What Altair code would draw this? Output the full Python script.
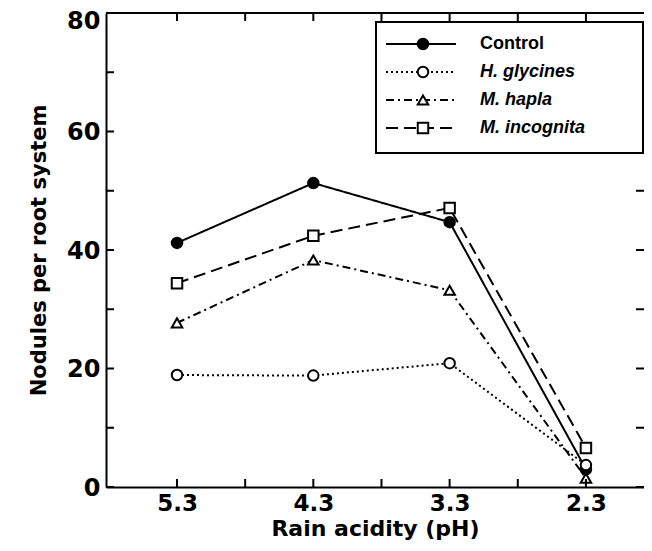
import altair as alt
import pandas as pd

# ---- data ----
ph_labels = ["5.3", "4.3", "3.3", "2.3"]
series_names = ["Control", "H. glycines", "M. hapla", "M. incognita"]
control = [41.2, 51.3, 44.7, 3.0]
h_glycines = [18.9, 18.8, 20.9, 3.7]
m_hapla = [27.7, 38.3, 33.2, 1.5]
m_incognita = [34.4, 42.4, 47.1, 6.6]
x_tick_values = [0, 0.5, 1, 1.5, 2, 2.5, 3]
y_tick_values = [0, 10, 20, 30, 40, 50, 60, 70, 80]
y_label_values = [0, 20, 40, 60, 80]

series_values = [control, h_glycines, m_hapla, m_incognita]
rows = []
for name, vals in zip(series_names, series_values):
    for i, v in enumerate(vals):
        rows.append({"series": name, "idx": i, "ph": ph_labels[i], "value": v})
df = pd.DataFrame(rows)
leg_df = pd.DataFrame({"series": series_names})
xt_df = pd.DataFrame({"t": x_tick_values})
yt_df = pd.DataFrame({"t": y_tick_values})
one = pd.DataFrame({"a": [0]})

W, H = 538, 474
FONT = "Liberation Sans"
AXFONT = "DejaVu Sans"
TICK = 8

x_scale = alt.Scale(domain=[-0.521, 3.426], nice=False, zero=False)
y_scale = alt.Scale(domain=[0, 80], nice=False, zero=True)
dash_scale = alt.Scale(domain=series_names, range=[[1, 0], [2, 3], [8, 4, 2, 4], [12, 6]])
shape_scale = alt.Scale(domain=series_names, range=["circle", "circle", "triangle-up", "square"])
fill_scale = alt.Scale(domain=series_names, range=["black", "white", "white", "white"])

label_arr = "[" + ",".join("'" + s + "'" for s in ph_labels) + "]"
x_axis = alt.Axis(
    values=x_tick_values,
    labelExpr="datum.value % 1 == 0 ? " + label_arr + "[datum.value] : ''",
    tickSize=0, grid=False, domainColor="black", domainWidth=2,
    labelFont=AXFONT, labelFontSize=23, labelFontWeight="bold", labelColor="black",
    labelPadding=5,
    titleFont=AXFONT, titleFontSize=22, titleFontWeight="bold", titleColor="black",
    titlePadding=3,
)
y_axis = alt.Axis(
    values=y_label_values,
    tickSize=0, grid=False, domainColor="black", domainWidth=2,
    labelFont=AXFONT, labelFontSize=24, labelFontWeight="bold", labelColor="black",
    labelPadding=6,
    labelOffset=alt.ExprRef("datum.value >= 80 ? 8 : 1"),
    titleFont=AXFONT, titleFontSize=21, titleFontWeight="bold", titleColor="black",
    titlePadding=17,
)
X_TITLE = "Rain acidity (pH)"
Y_TITLE = "Nodules per root system"

def xenc(field):
    return alt.X(field, type="quantitative", scale=x_scale, axis=x_axis, title=X_TITLE)

def yenc(field):
    return alt.Y(field, type="quantitative", scale=y_scale, axis=y_axis, title=Y_TITLE)

lines = alt.Chart(df).mark_line(strokeWidth=2, color="black").encode(
    x=xenc("idx"), y=yenc("value"),
    strokeDash=alt.StrokeDash("series:N", scale=dash_scale, legend=None),
    order="idx:Q",
)
points = alt.Chart(df).mark_point(filled=True, stroke="black", strokeWidth=2, size=110, opacity=1).encode(
    x=xenc("idx"), y=yenc("value"),
    shape=alt.Shape("series:N", scale=shape_scale, legend=None),
    fill=alt.Fill("series:N", scale=fill_scale, legend=None),
)
bottom_ticks = alt.Chart(xt_df).mark_rule(strokeWidth=2, color="black").encode(
    x=xenc("t"), y=alt.value(H), y2=alt.value(H - TICK))
top_ticks = alt.Chart(xt_df).mark_rule(strokeWidth=2, color="black").encode(
    x=xenc("t"), y=alt.value(0), y2=alt.value(TICK))
left_ticks = alt.Chart(yt_df).mark_rule(strokeWidth=2, color="black").encode(
    y=yenc("t"), x=alt.value(0), x2=alt.value(TICK))
right_ticks = alt.Chart(yt_df).mark_rule(strokeWidth=2, color="black").encode(
    y=yenc("t"), x=alt.value(W - TICK), x2=alt.value(W))
top_line = alt.Chart(one).mark_rule(strokeWidth=2, color="black").encode(
    x=alt.value(0), x2=alt.value(W), y=alt.value(0))

inner = alt.layer(lines, points, bottom_ticks, top_ticks, left_ticks, right_ticks, top_line)

# ---- legend ----
leg_y = alt.Y("series:N", scale=alt.Scale(type="point", domain=series_names, range=[31, 115], padding=0), axis=None)
box = alt.Chart(one).mark_rect(fill="white", stroke="black", strokeWidth=2).encode(
    x=alt.value(270), x2=alt.value(W - 1), y=alt.value(9), y2=alt.value(140))
leg_lines = alt.Chart(leg_df).mark_rule(strokeWidth=2, color="black").encode(
    x=alt.value(280), x2=alt.value(350), y=leg_y,
    strokeDash=alt.StrokeDash("series:N", scale=dash_scale, legend=None))
leg_pts = alt.Chart(leg_df).mark_point(filled=True, stroke="black", strokeWidth=2, size=110, opacity=1).encode(
    x=alt.value(317), y=leg_y,
    shape=alt.Shape("series:N", scale=shape_scale, legend=None),
    fill=alt.Fill("series:N", scale=fill_scale, legend=None))
leg_txt_plain = alt.Chart(leg_df).transform_filter(alt.datum.series == series_names[0]).mark_text(
    align="left", baseline="middle", font=FONT, fontSize=18, fontWeight="bold", color="black").encode(
    x=alt.value(374), y=leg_y, text="series:N")
leg_txt_ital = alt.Chart(leg_df).transform_filter(alt.datum.series != series_names[0]).mark_text(
    align="left", baseline="middle", font=FONT, fontSize=18, fontWeight="bold", fontStyle="italic",
    color="black").encode(
    x=alt.value(374), y=leg_y, text="series:N")

chart = alt.layer(inner, box, leg_lines, leg_pts, leg_txt_plain, leg_txt_ital).resolve_scale(
    y="independent"
).properties(
    width=W, height=H,
    padding={"left": 98, "top": 5, "right": 0, "bottom": 56},
    autosize=alt.AutoSizeParams(type="none"),
    background="white",
).configure_view(stroke="transparent")

chart.save("out.html", embed_options={"renderer": "svg", "actions": False})
